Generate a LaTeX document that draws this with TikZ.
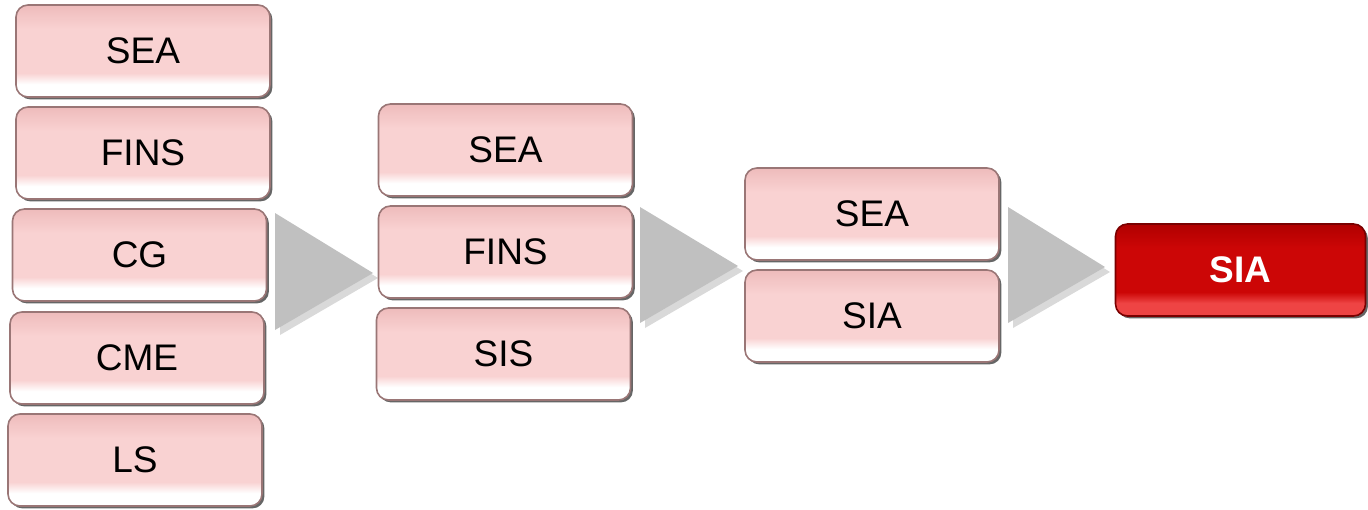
\documentclass[tikz,border=0pt]{standalone}
\usepackage{fontspec}
\setmainfont{Liberation Sans}
\usetikzlibrary{shadows}
\definecolor{pkA}{HTML}{EEBBBB}
\definecolor{pkB}{HTML}{F9D2D2}
\definecolor{pkEdge}{HTML}{9A7676}
\definecolor{rdA}{HTML}{B00000}
\definecolor{rdB}{HTML}{CC0606}
\definecolor{rdC}{HTML}{EE4444}
\definecolor{rdEdge}{HTML}{7A0000}
\definecolor{arrgray}{HTML}{C0C0C0}
\pgfdeclareverticalshading{pinkbox}{100bp}{color(0bp)=(white); color(25bp)=(white); color(32bp)=(white); color(38bp)=(pkB); color(62bp)=(pkB); color(75bp)=(pkA); color(100bp)=(pkA)}
\pgfdeclareverticalshading{redbox}{100bp}{color(0bp)=(rdC); color(25bp)=(rdC); color(32bp)=(rdC); color(38bp)=(rdB); color(62bp)=(rdB); color(75bp)=(rdA); color(100bp)=(rdA)}
\newcommand{\txt}{\fontsize{18.5pt}{22pt}\selectfont}

\begin{document}
\begin{tikzpicture}[x=0.5pt, y=-0.5pt,
  box/.style={rectangle, rounded corners=6pt, minimum width=127pt, minimum height=46pt,
    inner sep=0pt, draw=pkEdge, line width=0.8pt, shading=pinkbox,
    drop shadow={shadow xshift=1.2pt, shadow yshift=-1.2pt, opacity=0.75, fill=black!80},
    font=\txt},
  goal/.style={box, draw=rdEdge, shading=redbox, minimum width=125pt, text=white, font=\txt\bfseries},
  tri/.style={fill=arrgray, drop shadow={shadow xshift=2.5pt, shadow yshift=-2.5pt, opacity=0.3}}]
\useasboundingbox (0,0) rectangle (1368,509);

\node[box] (a1) at (143,51)  {SEA};
\node[box] (a2) at (143,153) {FINS};
\node[box] (a3) at (139.5,255) {CG};
\node[box] (a4) at (137,358) {CME};
\node[box] (a5) at (135,460) {LS};

\node[box] (b1) at (505.5,150) {SEA};
\node[box] (b2) at (505.5,252) {FINS};
\node[box] (b3) at (503.5,354) {SIS};

\node[box] (c1) at (872,214) {SEA};
\node[box] (c2) at (872,316) {SIA};

\node[goal] (d) at (1240.5,270) {SIA};

\fill[tri] (275,213) -- (373,273) -- (275,330) -- cycle;
\fill[tri] (640,207) -- (738,266) -- (640,323) -- cycle;
\fill[tri] (1008,207) -- (1105,267) -- (1008,323) -- cycle;
\end{tikzpicture}
\end{document}
